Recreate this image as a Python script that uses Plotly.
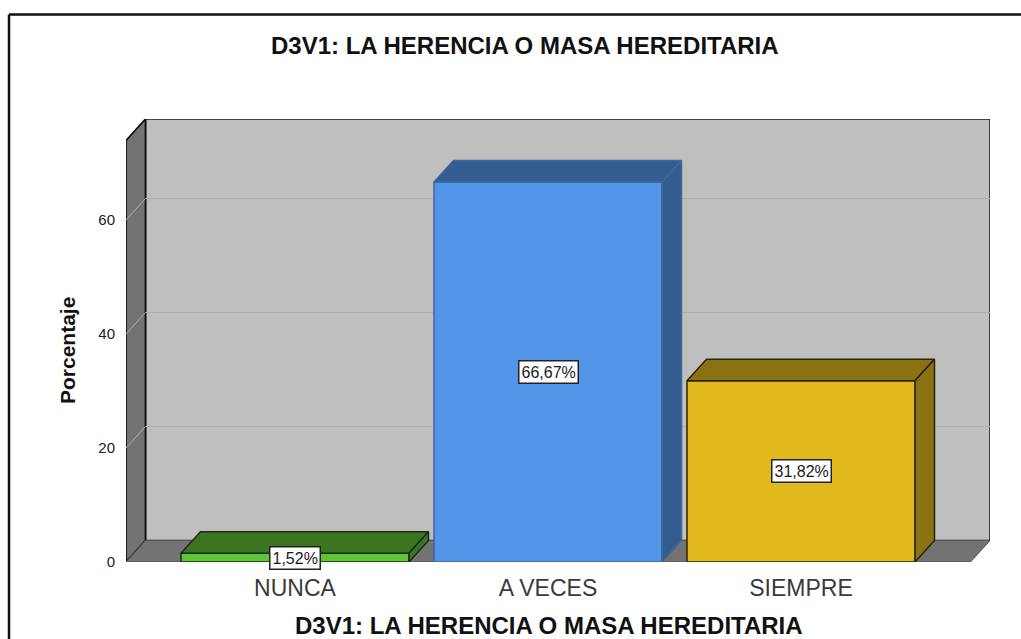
import plotly.graph_objects as go

CATEGORIES = ["NUNCA", "A VECES", "SIEMPRE"]
PERCENTS = [1.52, 66.67, 31.82]
PERCENT_LABELS = ["1,52%", "66,67%", "31,82%"]
Y_TICKS = [0, 20, 40, 60]
TITLE = "D3V1: LA HERENCIA O MASA HEREDITARIA"

FRONT_COLORS = ["#5ec636", "#5294e6", "#e0ba1c"]
DARK_COLORS = ["#3b7522", "#335d90", "#8a7212"]
EDGE_COLORS = ["#1c2a12", "#3f6799", "#2a2408"]

FONT = "Liberation Sans, Arial, sans-serif"
WALL = "#737373"
BACK = "#bfbfbf"
GRID = "#aeaeae"

# plot area in pixels, the data axes are fitted to it
LEFT, RIGHT, TOP, BOTTOM = 126, 990, 119, 562
X_UNIT = 253.0
Y_UNIT = 5.7
X0_PX = 295.0
DEPTH_X = 19.5 / X_UNIT
DEPTH_Y = 21.5 / Y_UNIT
BAR_WIDTH = 228 / X_UNIT

x_min = (LEFT - X0_PX) / X_UNIT
x_max = (RIGHT - X0_PX) / X_UNIT
y_max = (BOTTOM - TOP) / Y_UNIT
front_right = x_max - DEPTH_X


def px_x(p):
    return (p - LEFT) / (RIGHT - LEFT)


def px_y(p):
    return (BOTTOM - p) / (BOTTOM - TOP)


def poly(xs, ys, fill, line, width=1.0):
    path = "M " + " L ".join(f"{x},{y}" for x, y in zip(xs, ys)) + " Z"
    return dict(
        type="path", path=path, xref="x", yref="y", layer="below",
        fillcolor=fill, line=dict(color=line, width=width),
    )


shapes = [
    # back wall
    poly(
        [x_min + DEPTH_X, x_max, x_max, x_min + DEPTH_X],
        [DEPTH_Y, DEPTH_Y, y_max, y_max],
        BACK, "#1a1a1a", 1.5,
    ),
    # left wall
    poly(
        [x_min, x_min + DEPTH_X, x_min + DEPTH_X, x_min],
        [0, DEPTH_Y, y_max, y_max - DEPTH_Y],
        WALL, "#111111", 1.8,
    ),
    # floor
    poly(
        [x_min, front_right, x_max, x_min + DEPTH_X],
        [0, 0, DEPTH_Y, DEPTH_Y],
        WALL, "#555555", 1.0,
    ),
]

for tick in Y_TICKS[1:]:
    shapes.append(dict(
        type="line", xref="x", yref="y", layer="below",
        x0=x_min, y0=tick, x1=x_min + DEPTH_X, y1=tick + DEPTH_Y,
        line=dict(color=GRID, width=1),
    ))
    shapes.append(dict(
        type="line", xref="x", yref="y", layer="below",
        x0=x_min + DEPTH_X, y0=tick + DEPTH_Y, x1=x_max, y1=tick + DEPTH_Y,
        line=dict(color=GRID, width=1),
    ))

# outer frame, runs off the right and bottom of the picture
shapes.append(dict(
    type="line", xref="paper", yref="paper",
    x0=px_x(9), y0=px_y(14.5), x1=px_x(1021), y1=px_y(14.5),
    line=dict(color="#111111", width=2.5),
))
shapes.append(dict(
    type="line", xref="paper", yref="paper",
    x0=px_x(9), y0=px_y(14.5), x1=px_x(9), y1=px_y(639),
    line=dict(color="#111111", width=2.5),
))

fig = go.Figure()

# front faces
fig.add_trace(
    go.Bar(
        x=list(range(len(CATEGORIES))),
        y=PERCENTS,
        width=BAR_WIDTH,
        marker=dict(color=FRONT_COLORS, line=dict(color=EDGE_COLORS, width=1.5)),
        showlegend=False,
        hoverinfo="skip",
    )
)

# top and side faces
for i, value in enumerate(PERCENTS):
    x0 = i - BAR_WIDTH / 2
    x1 = i + BAR_WIDTH / 2
    fig.add_trace(
        go.Scatter(
            x=[x0, x1, x1 + DEPTH_X, x0 + DEPTH_X, x0],
            y=[value, value, value + DEPTH_Y, value + DEPTH_Y, value],
            mode="lines",
            fill="toself",
            fillcolor=DARK_COLORS[i],
            line=dict(color=EDGE_COLORS[i], width=1.5),
            showlegend=False,
            hoverinfo="skip",
        )
    )
    fig.add_trace(
        go.Scatter(
            x=[x1, x1 + DEPTH_X, x1 + DEPTH_X, x1, x1],
            y=[0, DEPTH_Y, value + DEPTH_Y, value, 0],
            mode="lines",
            fill="toself",
            fillcolor=DARK_COLORS[i],
            line=dict(color=EDGE_COLORS[i], width=1.5),
            showlegend=False,
            hoverinfo="skip",
        )
    )
    fig.add_annotation(
        x=i,
        y=value / 2,
        text=PERCENT_LABELS[i],
        showarrow=False,
        font=dict(family=FONT, size=16, color="#1a1a1a"),
        bgcolor="#ffffff",
        bordercolor="#222222",
        borderwidth=1.5,
        borderpad=2,
    )

fig.add_annotation(
    xref="paper", yref="paper",
    x=px_x(525), y=px_y(45),
    yanchor="middle",
    text=f"<b>{TITLE}</b>",
    showarrow=False,
    font=dict(family=FONT, size=24, color="#111111"),
)
fig.add_annotation(
    xref="paper", yref="paper",
    x=px_x(549), y=px_y(625),
    yanchor="middle",
    text=f"<b>{TITLE}</b>",
    showarrow=False,
    font=dict(family=FONT, size=24, color="#111111"),
)
fig.add_annotation(
    xref="paper", yref="paper",
    x=px_x(67), y=px_y(351),
    xanchor="center",
    yanchor="middle",
    textangle=-90,
    text="<b>Porcentaje</b>",
    showarrow=False,
    font=dict(family=FONT, size=21, color="#111111"),
)

fig.update_layout(
    width=1021,
    height=639,
    margin=dict(l=LEFT, r=1021 - RIGHT, t=TOP, b=639 - BOTTOM),
    paper_bgcolor="#ffffff",
    plot_bgcolor="#ffffff",
    showlegend=False,
    shapes=shapes,
    font=dict(family=FONT),
)

fig.update_xaxes(
    range=[x_min, x_max],
    tickmode="array",
    tickvals=list(range(len(CATEGORIES))),
    ticktext=CATEGORIES,
    tickfont=dict(family=FONT, size=23, color="#3a3a3a"),
    ticks="outside",
    ticklen=5,
    tickcolor="rgba(0,0,0,0)",
    showgrid=False,
    zeroline=False,
    showline=False,
    automargin=False,
)

fig.update_yaxes(
    range=[0, y_max],
    tickmode="array",
    tickvals=Y_TICKS,
    ticktext=[str(t) for t in Y_TICKS],
    tickfont=dict(family=FONT, size=15, color="#222222"),
    ticks="outside",
    ticklen=7,
    tickcolor="rgba(0,0,0,0)",
    showgrid=False,
    zeroline=False,
    showline=False,
    automargin=False,
)

# the page's default body margin would push the figure 8px down and right
fig.write_html(
    "out.html",
    config=dict(displayModeBar=False),
    post_script="document.body.style.margin='0';",
)
